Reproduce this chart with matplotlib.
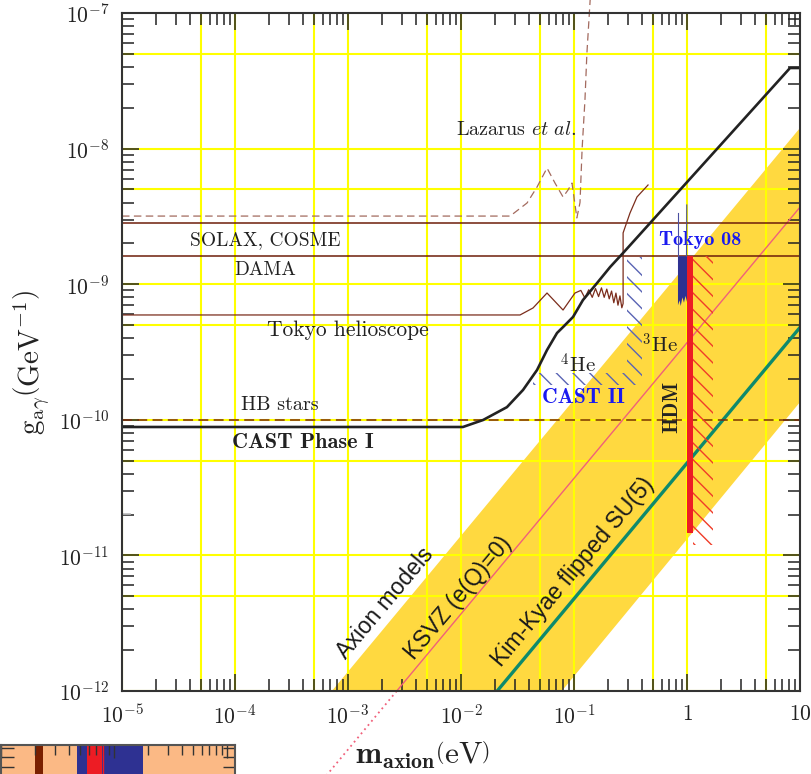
import math
import matplotlib
matplotlib.use('Agg')
import matplotlib.pyplot as plt
from matplotlib.ticker import LogLocator, FuncFormatter, NullFormatter

plt.rcParams['mathtext.fontset'] = 'cm'
plt.rcParams['axes.formatter.use_mathtext'] = True
plt.rcParams['hatch.linewidth'] = 1.0

# limites horizontais (GeV^-1)
solax_g = 2.83e-9
dama_g = 1.61e-9
hb_g = 1.0e-10

# CAST fase I + II (curva preta)
cast_m = [1e-5, 0.0104, 0.0157, 0.0255, 0.0354, 0.0471, 0.0577, 0.0708, 0.080, 0.098,
          0.120, 0.160, 0.209, 0.272, 8.16, 10]
cast_g = [8.85e-11, 8.85e-11, 9.97e-11, 1.24e-10, 1.66e-10, 2.33e-10, 3.27e-10, 4.37e-10,
          4.83e-10, 5.73e-10, 7.64e-10, 1.02e-9, 1.34e-9, 1.70e-9, 3.93e-8, 3.93e-8]

# Tokyo helioscope
tokyo_m = [1e-5, 0.0333, 0.0434, 0.0577, 0.080, 0.102, 0.115, 0.125, 0.135, 0.145, 0.155,
           0.165, 0.175, 0.185, 0.195, 0.205, 0.215, 0.225, 0.235, 0.245, 0.255, 0.265,
           0.272, 0.272, 0.313, 0.361, 0.452]
tokyo_g = [5.93e-10, 5.93e-10, 6.68e-10, 8.61e-10, 6.45e-10, 8.61e-10, 9.0e-10, 7.9e-10,
           9.1e-10, 8.0e-10, 9.3e-10, 8.1e-10, 9.4e-10, 8.0e-10, 9.2e-10, 7.8e-10, 8.9e-10,
           7.3e-10, 8.6e-10, 7.0e-10, 8.2e-10, 6.7e-10, 7.2e-10, 2.39e-9, 3.35e-9, 4.40e-9,
           5.39e-9]

# Lazarus et al. (tracejada)
laz_m = [1e-5, 0.0272, 0.0384, 0.0471, 0.0577, 0.0679, 0.080, 0.0885, 0.096, 0.106, 0.113,
         0.118, 0.125, 0.130, 0.139]
laz_g = [3.18e-9, 3.18e-9, 3.97e-9, 5.21e-9, 7.19e-9, 5.57e-9, 4.40e-9, 4.95e-9, 5.57e-9,
         3.08e-9, 4.0e-9, 1.0e-8, 2.28e-8, 5e-8, 1.25e-7]

# banda dos modelos de axion
band_m = [7.2e-4, 10, 10, 0.078]
band_g = [1e-12, 1.42e-8, 1.35e-10, 1e-12]

# KSVZ e Kim-Kyae
ksvz_m = [2.7e-3, 10]
ksvz_g = [1e-12, 3.7e-9]
ksvz_ext_m = [2.7e-3, 6.0e-4]
ksvz_ext_g = [1e-12, 2.22e-13]
kk_m = [0.0209, 10]
kk_g = [1e-12, 4.8e-10]

# CAST II (regiao hachurada 4He + 3He)
cast2_m = [0.0434, 0.40, 0.40, 0.294, 0.294, 0.0434]
cast2_g = [1.81e-10, 1.81e-10, 1.59e-9, 1.59e-9, 2.21e-10, 2.21e-10]

# Tokyo 08
tk08_m = [0.832, 0.832, 0.86, 0.88, 0.91, 0.94, 0.97, 1.0, 1.0]
tk08_g = [1.61e-9, 7.0e-10, 7.6e-10, 6.9e-10, 8.0e-10, 7.3e-10, 8.2e-10, 7.4e-10, 1.61e-9]
tk08_left_m = [0.825, 0.825]
tk08_left_g = [1.61e-9, 3.35e-9]
tk08_right_m = [0.99, 0.995]
tk08_right_g = [1.61e-9, 3.84e-9]

# HDM
hdm_m = [1.0, 1.12]
hdm_g = [1.46e-11, 1.61e-9]
hdm_hatch_m = [1.12, 1.7]
hdm_hatch_g = [1.2e-11, 1.61e-9]

# marca cinza solta no eixo y
stray_m = [1e-5, 1.17e-5]
stray_g = [2.02e-11, 2.02e-11]

fig = plt.figure(figsize=(8.11, 7.74), dpi=100)
ax = fig.add_axes([122/811, 1 - 691/774, 678/811, 678/774])
ax.set_xscale('log')
ax.set_yscale('log')
ax.set_xlim(1e-5, 10)
ax.set_ylim(1e-12, 1e-7)

# banda amarela
ax.fill(band_m, band_g, color='#ffd940', lw=0, zorder=1)

# grade amarela em 1 e 5 de cada decada
for e in range(-5, 1):
    for b in (1, 5):
        ax.axvline(b * 10.0**e, color='#ffff00', lw=1.5, zorder=1.5)
for e in range(-12, -7):
    for b in (1, 5):
        ax.axhline(b * 10.0**e, color='#ffff00', lw=1.5, zorder=1.5)

ax.plot(ksvz_m, ksvz_g, color='#f0607a', lw=1.0, zorder=3)
ax.plot(ksvz_ext_m, ksvz_ext_g, color='#f0607a', lw=1.3, ls=(0, (1, 2)), zorder=3, clip_on=False)
ax.plot(kk_m, kk_g, color='#0e8a6c', lw=2.4, zorder=3)

ax.axhline(solax_g, color='#6e1e0a', lw=1.1, zorder=3)
ax.axhline(dama_g, color='#6e1e0a', lw=1.1, zorder=3)
ax.axhline(hb_g, color='#7a2a10', lw=1.1, ls=(0, (6.5, 3.5)), zorder=3)
ax.plot(tokyo_m, tokyo_g, color='#7b2d1c', lw=0.9, zorder=3)
ax.plot(laz_m, laz_g, color='#a36a5e', lw=0.9, ls=(0, (6, 3.5)), zorder=3, clip_on=False)
ax.plot(cast_m, cast_g, color='#222222', lw=1.9, zorder=4)
ax.plot(stray_m, stray_g, color='#bbbbbb', lw=1.2, zorder=4)

ax.fill(cast2_m, cast2_g, facecolor='none', edgecolor='#5a64b4', hatch='\\\\', lw=0, zorder=3)
ax.fill(hdm_hatch_m + hdm_hatch_m[::-1], [hdm_hatch_g[0]] * 2 + [hdm_hatch_g[1]] * 2,
        facecolor='none', edgecolor='#f03c28', hatch='\\\\', lw=0, zorder=3)
ax.fill(hdm_m + hdm_m[::-1], [hdm_g[0]] * 2 + [hdm_g[1]] * 2, color='#ed1c24', lw=0, zorder=5)
ax.fill(tk08_m, tk08_g, color='#2e3192', lw=0, zorder=5)
ax.plot(tk08_left_m, tk08_left_g, color='#4a4fa0', lw=0.8, zorder=5)
ax.plot(tk08_right_m, tk08_right_g, color='#4a4fa0', lw=0.8, zorder=5)

# textos
serif = 'cmr10'
ax.text(0.0307, 1.37e-8, r'Lazarus $\mathit{et\ al.}$', family=serif, fontsize=14.5,
        ha='center', va='center', color='#222')
ax.text(1.84e-4, 2.12e-9, 'SOLAX, COSME', family=serif, fontsize=14, ha='center', va='center', color='#222')
ax.text(1.84e-4, 1.27e-9, 'DAMA', family=serif, fontsize=14, ha='center', va='center', color='#222')
ax.text(1e-3, 4.59e-10, 'Tokyo helioscope', family=serif, fontsize=15.5, ha='center', va='center', color='#222')
ax.text(2.5e-4, 1.29e-10, 'HB stars', family=serif, fontsize=14.5, ha='center', va='center', color='#222')
ax.text(4.0e-4, 6.75e-11, 'CAST Phase I', family='cmb10', fontsize=16, ha='center', va='center', color='#222')
ax.text(0.108, 2.54e-10, r'$^{4}$He', family=serif, fontsize=15, ha='center', va='center', color='#222')
ax.text(0.577, 3.56e-10, r'$^{3}$He', family=serif, fontsize=15, ha='center', va='center', color='#222')
ax.text(0.122, 1.47e-10, 'CAST II', family='cmb10', fontsize=15.5, ha='center', va='center', color='#1a1af0')
ax.text(1.30, 2.12e-9, 'Tokyo 08', family='cmb10', fontsize=14.5, ha='center', va='center', color='#1a1af0')
ax.text(0.736, 1.24e-10, 'HDM', family='cmb10', fontsize=15, ha='center', va='center',
        rotation=90, color='#222')

sans = 'Liberation Sans'
ax.text(2.12e-3, 4.46e-12, 'Axion models', family=sans, fontsize=16.5, rotation=50,
        ha='center', va='center', rotation_mode='anchor', color='#1a1a1a')
ax.text(9.4e-3, 4.85e-12, 'KSVZ (e(Q)=0)', family=sans, fontsize=16.5, rotation=50,
        ha='center', va='center', rotation_mode='anchor', color='#1a1a1a')
ax.text(0.098, 7.55e-12, 'Kim-Kyae flipped SU(5)', family=sans, fontsize=16.5, rotation=50,
        ha='center', va='center', rotation_mode='anchor', color='#1a1a1a')

# eixos
def fmt(v, pos):
    e = int(round(math.log10(v)))
    if e == 0:
        return r'$\mathrm{1}$'
    if e == 1:
        return r'$\mathrm{10}$'
    return r'$\mathrm{10^{%d}}$' % e

for axis in (ax.xaxis, ax.yaxis):
    axis.set_major_locator(LogLocator(base=10, numticks=20))
    axis.set_minor_locator(LogLocator(base=10, subs=range(2, 10), numticks=20))
    axis.set_major_formatter(FuncFormatter(fmt))
    axis.set_minor_formatter(NullFormatter())

ax.tick_params(which='both', direction='in', top=True, right=True, width=1.1, color='#222')
ax.tick_params(which='major', length=12, labelsize=15.5, pad=9, labelcolor='#222')
ax.tick_params(which='minor', length=8.5)
for s in ax.spines.values():
    s.set_linewidth(1.5)
    s.set_color('#333')
    s.set_zorder(6)

fig.text(422/811, 1 - 755/774, r'$\mathbf{m_{axion}}\left(\mathrm{eV}\right)$', fontsize=22.5,
         ha='center', va='center', color='#222')
fig.text(32/811, 1 - 362/774, r'$\mathrm{g_{a\gamma}}\left(\mathrm{GeV^{-1}}\right)$', fontsize=21,
         ha='center', va='center', rotation=90, color='#222')

# faixa recortada no canto inferior esquerdo
sx = fig.add_axes([1/811, -26/774, 234/811, 55/774])
sx.set_xscale('log')
sx.set_xlim(1, 10**(234/113))
sx.set_ylim(0, 1)
sx.set_facecolor('#fbb985')
sx.axvspan(2.0, 2.35, color='#7a2000', lw=0)
sx.axvspan(4.7, 5.77, color='#2e3192', lw=0)
sx.axvspan(5.77, 7.83, color='#ed1c24', lw=0)
sx.axvspan(7.83, 18.1, color='#2e3192', lw=0)
sx.axvline(8.0, color='#ed1c24', lw=1.0)
sx.xaxis.set_major_locator(LogLocator(base=10, numticks=10))
sx.xaxis.set_minor_locator(LogLocator(base=10, subs=range(2, 10), numticks=10))
sx.xaxis.set_major_formatter(NullFormatter())
sx.xaxis.set_minor_formatter(NullFormatter())
sx.set_yticks([0.6, 0.78, 0.945])
sx.set_yticklabels([])
sx.tick_params(which='both', direction='in', top=True, bottom=False, left=True, right=True,
               labelbottom=False, labelleft=False, width=1.0, color='#333')
sx.tick_params(which='major', length=9)
sx.tick_params(which='minor', length=7)
for s in sx.spines.values():
    s.set_linewidth(1.5)
    s.set_color('#555')

fig.savefig('out.png', dpi=100)
